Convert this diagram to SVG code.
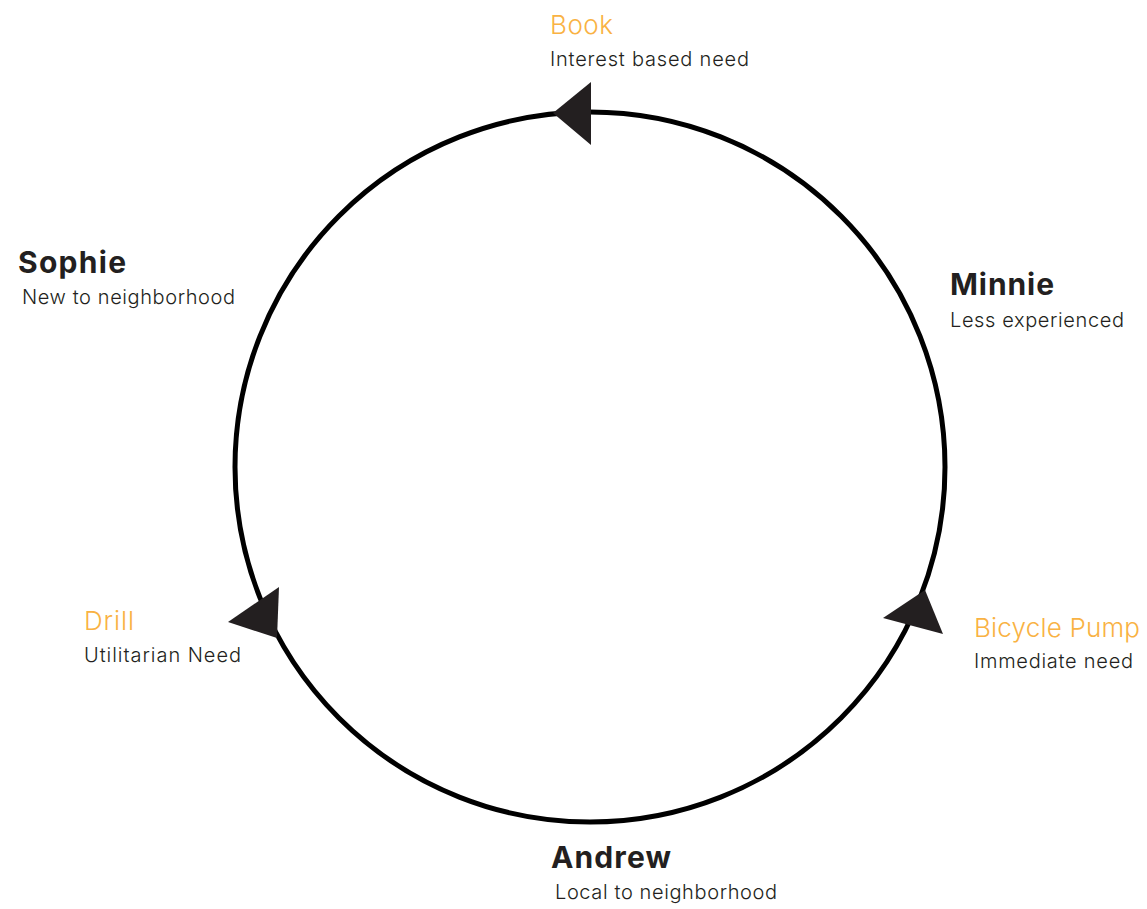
<svg xmlns="http://www.w3.org/2000/svg" width="1147" height="909" viewBox="0 0 1147 909">
<style>
.name{font-family:Inter,"Liberation Sans",sans-serif;font-size:30px;font-weight:700;fill:#231f20}
.item{font-family:Inter,"Liberation Sans",sans-serif;font-size:26px;font-weight:300;fill:#f9b243}
.sub{font-family:Inter,"Liberation Sans",sans-serif;font-size:20px;font-weight:300;fill:#231f20}
.arrow{fill:#231f20}
</style>
<rect width="1147" height="909" fill="#fff"/>
<g id="connectors">
<circle cx="590" cy="467" r="355" fill="none" stroke="#000" stroke-width="5"/>
<polygon class="arrow" points="553,113 591,82 591,145"/>
<polygon class="arrow" points="228,622 279,587 277,638"/>
<polygon class="arrow" points="925,590 883,618 943,634"/>
</g>
<g id="book"><text class="item" x="550" y="34" textLength="63">Book</text><text class="sub" x="550" y="66" textLength="199">Interest based need</text></g>
<g id="sophie"><text class="name" x="18" y="273" textLength="108">Sophie</text><text class="sub" x="22" y="304" textLength="213">New to neighborhood</text></g>
<g id="minnie"><text class="name" x="950" y="295" textLength="104">Minnie</text><text class="sub" x="950" y="327" textLength="174">Less experienced</text></g>
<g id="bicycle"><text class="item" x="974" y="637" textLength="166">Bicycle Pump</text><text class="sub" x="974" y="668" textLength="159">Immediate need</text></g>
<g id="drill"><text class="item" x="84" y="630" textLength="50">Drill</text><text class="sub" x="84" y="662" textLength="157">Utilitarian Need</text></g>
<g id="andrew"><text class="name" x="551" y="868" textLength="120">Andrew</text><text class="sub" x="555" y="899" textLength="222">Local to neighborhood</text></g>
</svg>
